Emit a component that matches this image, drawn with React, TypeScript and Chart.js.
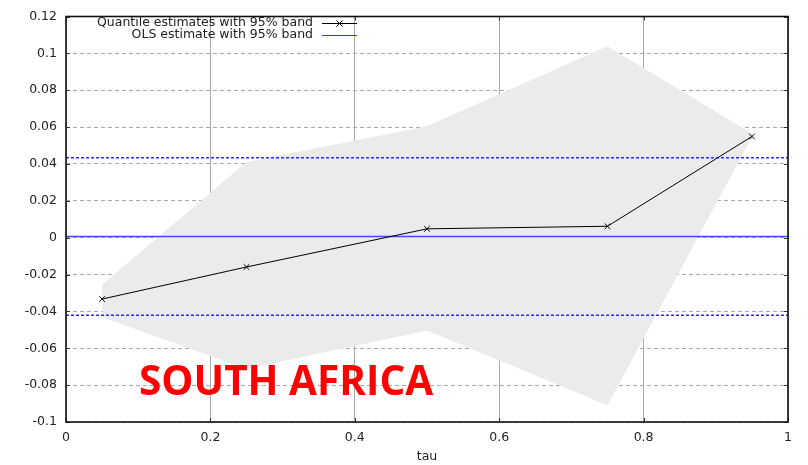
import React, { useEffect, useRef } from "react";
import { Chart, registerables } from "chart.js";

Chart.register(...registerables);

// Quantile regression coefficients by tau, with 95% confidence band
const taus = [0.05, 0.25, 0.5, 0.75, 0.95];
const quantileEst = [-0.0333, -0.0159, 0.0048, 0.0062, 0.0549];
const quantileUpper = [-0.0256, 0.0411, 0.0604, 0.1039, 0.0565];
const quantileLower = [-0.043, -0.0712, -0.0503, -0.0909, 0.0545];

// OLS coefficient with its 95% band
const olsEst = 0.0006;
const olsLower = -0.0421;
const olsUpper = 0.0434;

const xTicks = [0, 0.2, 0.4, 0.6, 0.8, 1];
const yTicks = [-0.1, -0.08, -0.06, -0.04, -0.02, 0, 0.02, 0.04, 0.06, 0.08, 0.1, 0.12];

const legendLabels = ["Quantile estimates with 95% band", "OLS estimate with 95% band"];
const countryLabel = "SOUTH AFRICA";
const xTitle = "tau";

const FONT = "'DejaVu Sans', sans-serif";
const FONT_SIZE = 12.5;
const TEXT = "#222222";
const BLUE = "#3434ff";

const fmt = (v: number) => String(parseFloat(Number(v).toFixed(2)));

const decorations = {
  id: "decorations",
  afterDraw(chart: any) {
    const { ctx, chartArea } = chart;
    const { left, right, top, bottom } = chartArea;
    const xs = chart.scales.x;
    const ys = chart.scales.y;
    ctx.save();

    // inward tick marks on all four sides
    ctx.strokeStyle = "#333333";
    ctx.lineWidth = 1;
    ctx.beginPath();
    xTicks.forEach((t) => {
      const px = Math.round(xs.getPixelForValue(t)) + 0.5;
      ctx.moveTo(px, bottom);
      ctx.lineTo(px, bottom - 4);
      ctx.moveTo(px, top);
      ctx.lineTo(px, top + 4);
    });
    yTicks.forEach((t) => {
      const py = Math.round(ys.getPixelForValue(t)) + 0.5;
      ctx.moveTo(left, py);
      ctx.lineTo(left + 4, py);
      ctx.moveTo(right, py);
      ctx.lineTo(right - 4, py);
    });
    ctx.stroke();

    // frame
    ctx.strokeStyle = "#111111";
    ctx.lineWidth = 1.6;
    ctx.strokeRect(left, top, right - left, bottom - top);

    // key, text right-aligned before its sample line
    ctx.font = `${FONT_SIZE}px ${FONT}`;
    ctx.fillStyle = TEXT;
    ctx.textAlign = "right";
    ctx.textBaseline = "middle";
    const rows = [23, 35];
    const sx0 = 322;
    const sx1 = 357;
    legendLabels.forEach((label, i) => {
      ctx.fillText(label, 313, rows[i]);
    });
    ctx.lineWidth = 1;
    ctx.strokeStyle = "#000000";
    ctx.beginPath();
    ctx.moveTo(sx0, rows[0] + 0.5);
    ctx.lineTo(sx1, rows[0] + 0.5);
    const mx = (sx0 + sx1) / 2;
    ctx.moveTo(mx - 3, rows[0] - 2.5);
    ctx.lineTo(mx + 3, rows[0] + 3.5);
    ctx.moveTo(mx + 3, rows[0] - 2.5);
    ctx.lineTo(mx - 3, rows[0] + 3.5);
    ctx.stroke();
    ctx.strokeStyle = BLUE;
    ctx.beginPath();
    ctx.moveTo(sx0, rows[1] + 0.5);
    ctx.lineTo(sx1, rows[1] + 0.5);
    ctx.stroke();

    // axis title
    ctx.fillStyle = TEXT;
    ctx.textAlign = "center";
    ctx.fillText(xTitle, (left + right) / 2, 457);

    // country label
    ctx.font = `bold 40.5px 'Open Sans', sans-serif`;
    ctx.fillStyle = "#ff0000";
    ctx.textAlign = "left";
    ctx.textBaseline = "alphabetic";
    ctx.fillText(countryLabel, 139, 395);

    ctx.restore();
  },
};

export default function App() {
  const canvasRef = useRef<HTMLCanvasElement | null>(null);

  useEffect(() => {
    const canvas = canvasRef.current;
    if (!canvas) return;

    const pts = (ys: number[]) => taus.map((t, i) => ({ x: t, y: ys[i] }));
    const flat = (v: number) => [
      { x: 0, y: v },
      { x: 1, y: v },
    ];

    const chart = new Chart(canvas, {
      type: "line",
      data: {
        datasets: [
          {
            label: "band upper",
            data: pts(quantileUpper),
            borderWidth: 0,
            borderColor: "rgba(0,0,0,0)",
            pointRadius: 0,
            backgroundColor: "#ebebeb",
            fill: "+1",
            tension: 0,
            order: 3,
          },
          {
            label: "band lower",
            data: pts(quantileLower),
            borderWidth: 0,
            borderColor: "rgba(0,0,0,0)",
            pointRadius: 0,
            fill: false,
            order: 3,
          },
          {
            label: "OLS upper",
            data: flat(olsUpper),
            borderColor: "#2a2aff",
            borderWidth: 1.4,
            borderDash: [3, 2],
            pointRadius: 0,
            fill: false,
            order: 2,
          },
          {
            label: "OLS lower",
            data: flat(olsLower),
            borderColor: "#2a2aff",
            borderWidth: 1.4,
            borderDash: [3, 2],
            pointRadius: 0,
            fill: false,
            order: 2,
          },
          {
            label: "OLS",
            data: flat(olsEst),
            borderColor: "#4646ff",
            borderWidth: 1.5,
            pointRadius: 0,
            fill: false,
            order: 2,
          },
          {
            label: legendLabels[0],
            data: pts(quantileEst),
            borderColor: "#000000",
            borderWidth: 1,
            pointStyle: "crossRot",
            pointRadius: 4,
            pointBorderWidth: 1,
            pointBorderColor: "#000000",
            fill: false,
            tension: 0,
            order: 1,
          },
        ],
      },
      options: {
        animation: false,
        responsive: false,
        devicePixelRatio: 1,
        events: [],
        layout: { padding: { top: 12, right: 20, left: 0, bottom: 0 } },
        plugins: {
          legend: { display: false },
          tooltip: { enabled: false },
        },
        scales: {
          x: {
            type: "linear",
            min: 0,
            max: 1,
            afterBuildTicks: (s: any) => {
              s.ticks = xTicks.map((v) => ({ value: v }));
            },
            afterFit: (s: any) => {
              s.height = 43;
            },
            ticks: {
              padding: 8,
              color: TEXT,
              font: { family: FONT, size: FONT_SIZE },
              callback: (v: any) => fmt(v),
            },
            grid: { color: "#a8a8a8", lineWidth: 1, drawTicks: false },
            border: { display: false },
          },
          y: {
            type: "linear",
            min: -0.1,
            max: 0.12,
            afterBuildTicks: (s: any) => {
              s.ticks = yTicks.map((v) => ({ value: v }));
            },
            afterFit: (s: any) => {
              s.width = 66;
            },
            ticks: {
              padding: 9,
              color: TEXT,
              font: { family: FONT, size: FONT_SIZE },
              callback: (v: any) => fmt(v),
            },
            grid: { color: "#a8a8a8", lineWidth: 1, drawTicks: false },
            border: { display: false, dash: [4, 3] },
          },
        },
      },
      plugins: [decorations],
    });

    return () => chart.destroy();
  }, []);

  return (
    <div style={{ position: "absolute", left: 0, top: 0, width: 808, height: 465, background: "#ffffff" }}>
      <canvas ref={canvasRef} width={808} height={465} style={{ display: "block" }} />
    </div>
  );
}
